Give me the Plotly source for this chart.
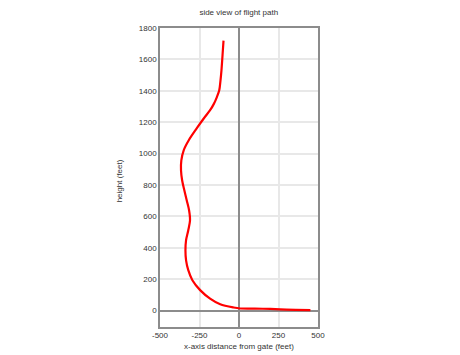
import plotly.graph_objects as go

# flight path side view (x distance from gate, height)
x_ft = [-98, -102, -106, -111, -117, -125, -140, -160, -183, -222, -268, -318, -350,
        -365, -367, -360, -346, -331, -316, -310, -321, -335, -339, -335, -321, -295,
        -246, -183, -119, -34, 8, 100, 198, 300, 452]
height_ft = [1720, 1660, 1600, 1530, 1467, 1403, 1360, 1315, 1276, 1225, 1160, 1085, 1021,
             957, 894, 830, 766, 703, 639, 575, 511, 448, 384, 320, 257, 193,
             130, 76, 40, 19, 13, 12, 10, 6, 3]

x_ticks = [-500, -250, 0, 250, 500]
x_tick_labels = ["-500", "-250", "0", "250", "500"]
y_ticks = [0, 200, 400, 600, 800, 1000, 1200, 1400, 1600, 1800]

font_family = "Liberation Sans, Arial, sans-serif"

fig = go.Figure()
fig.add_trace(go.Scatter(
    x=x_ft, y=height_ft, mode="lines",
    line=dict(color="#ff0000", width=2.2, shape="spline", smoothing=0.9),
    showlegend=False, hoverinfo="skip",
))

axis_common = dict(
    showline=True, mirror=True, linecolor="#8c8c8c", linewidth=1.5,
    showgrid=True, gridcolor="#e8e8e8", gridwidth=1.5,
    zeroline=True, zerolinecolor="#8c8c8c", zerolinewidth=1.5,
    ticks="", tickfont=dict(size=8, color="#333333", family=font_family),
)

fig.update_layout(
    width=460, height=355,
    margin=dict(l=160, r=142, t=28, b=28, pad=0),
    paper_bgcolor="white", plot_bgcolor="white",
    font=dict(family=font_family, size=8, color="#333333"),
    title=dict(text="side view of flight path", x=238.75 / 460,
               xanchor="center", y=1 - 12 / 355, yanchor="middle",
               font=dict(size=8, color="#333333", family=font_family)),
    xaxis=dict(range=[-500, 500], tickvals=x_ticks, ticktext=x_tick_labels, **axis_common),
    yaxis=dict(range=[-105, 1800], tickvals=y_ticks, **axis_common),
    annotations=[
        dict(text="x-axis distance from gate (feet)", xref="paper", yref="paper",
             x=0.5, y=-(346 - 326.7) / 299, xanchor="center", yanchor="middle",
             showarrow=False, font=dict(size=8, color="#333333", family=font_family)),
        dict(text="height (feet)", xref="paper", yref="paper",
             x=(120 - 160) / 157.5, y=0.49, xanchor="center", yanchor="middle",
             textangle=-90, showarrow=False,
             font=dict(size=8, color="#333333", family=font_family)),
    ],
)

fig.write_html("out.html")
